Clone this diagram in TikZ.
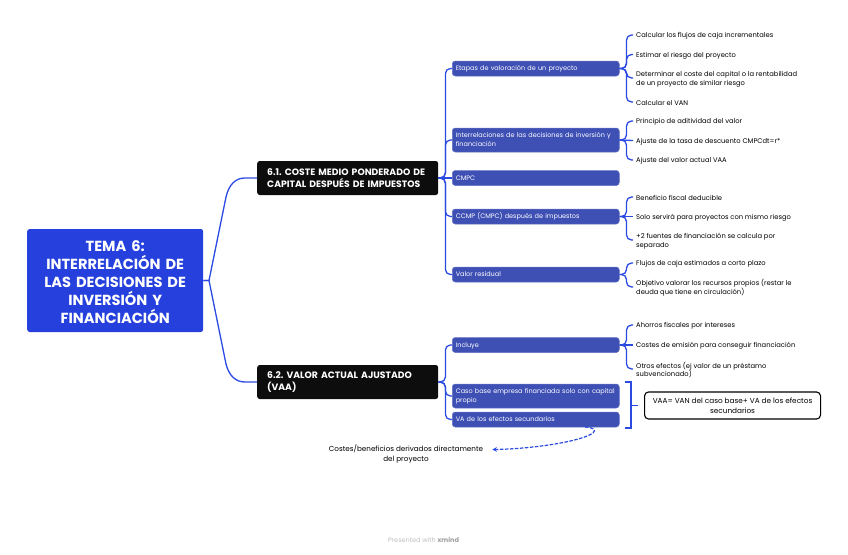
\documentclass[tikz,border=0pt]{standalone}
\usepackage{fontspec}
\setmainfont{Poppins}
\usetikzlibrary{arrows.meta,calc}
\definecolor{rootblue}{HTML}{2540DC}
\definecolor{subblue}{HTML}{3F50B5}
\definecolor{linkblue}{HTML}{2B4AE2}
\definecolor{nearblack}{HTML}{0D0D0D}
\tikzset{
 rootbox/.style={fill=rootblue,text=white,rounded corners=2.5pt,anchor=west,minimum width=176pt,minimum height=103pt,text width=176pt,text height=11pt,text depth=70pt,align=center,inner sep=0pt,font=\fontsize{14.6}{18}\selectfont\bfseries\frenchspacing},
 topicbox/.style={fill=nearblack,text=white,rounded corners=2.5pt,anchor=west,minimum width=181pt,minimum height=34pt,text width=161pt,inner xsep=10pt,inner ysep=0pt,align=left,font=\fontsize{9.25}{11.5}\selectfont\bfseries\frenchspacing},
 subbox/.style={fill=subblue,draw=subblue!80!white,line width=.5pt,text=white,rounded corners=3pt,anchor=west,minimum width=167pt,text width=160pt,inner xsep=3.5pt,inner ysep=0pt,align=left,font=\fontsize{6.5}{8.8}\selectfont\frenchspacing},
 oneline/.style={minimum height=15pt,text height=5pt,text depth=1pt},
 twoline/.style={minimum height=24pt,text height=5pt,text depth=9.9pt},
 leaf/.style={anchor=west,inner sep=0pt,align=left,yshift=-1pt,text=black,font=\fontsize{6.75}{8.8}\selectfont\frenchspacing},
 link/.style={draw=linkblue,line width=1.3pt,rounded corners=5pt},
 sumbox/.style={draw=black,line width=1.1pt,fill=white,rounded corners=4pt,anchor=west,minimum width=176pt,minimum height=27pt,align=center,inner sep=0pt,font=\fontsize{7.3}{9.5}\selectfont\frenchspacing},
 note/.style={inner sep=0pt,align=center,text=black,font=\fontsize{7.2}{10}\selectfont\frenchspacing},
}
\begin{document}
\begin{tikzpicture}[x=1pt,y=-1pt]
\useasboundingbox (0,0) rectangle (848,554);
\node[rootbox] (root) at (27,280.5) {TEMA 6:\\INTERRELACIÓN DE\\LAS DECISIONES DE\\INVERSIÓN Y\\FINANCIACIÓN};
\node[topicbox] (t1) at (257,178) {\mbox{6.1. COSTE MEDIO PONDERADO DE}\\\mbox{CAPITAL DESPUÉS DE IMPUESTOS}};
\node[topicbox] (t2) at (257,382) {6.2. VALOR ACTUAL AJUSTADO\\(VAA)};
\node[subbox,oneline] (s1) at (452,68.5) {Etapas de valoración de un proyecto};
\node[subbox,twoline] (s2) at (452,140) {\mbox{Interrelaciones de las decisiones de inversión y}\\financiación};
\node[subbox,oneline] (s3) at (452,178) {CMPC};
\node[subbox,oneline] (s4) at (452,216.5) {CCMP (CMPC) después de impuestos};
\node[subbox,oneline] (s5) at (452,274.5) {Valor residual};
\node[subbox,oneline] (s6) at (452,345) {Incluye};
\node[subbox,twoline] (s7) at (452,396) {\mbox{Caso base empresa financiada solo con capital}\\propio};
\node[subbox,oneline] (s8) at (452,419.5) {VA de los efectos secundarios};
\node[leaf] (l11) at (636,35) {Calcular los flujos de caja incrementales};
\node[leaf] (l12) at (636,54.5) {Estimar el riesgo del proyecto};
\node[leaf] (l13) at (636,78) {Determinar el coste del capital o la rentabilidad\\de un proyecto de similar riesgo};
\node[leaf] (l14) at (636,102) {Calcular el VAN};
\node[leaf] (l21) at (636,121) {Principio de aditividad del valor};
\node[leaf] (l22) at (636,140.5) {Ajuste de la tasa de descuento CMPCdt=r*};
\node[leaf] (l23) at (636,160) {Ajuste del valor actual VAA};
\node[leaf] (l41) at (636,197) {Beneficio fiscal deducible};
\node[leaf] (l42) at (636,216.5) {Solo servirá para proyectos con mismo riesgo};
\node[leaf] (l43) at (636,240) {+2 fuentes de financiación se calcula por\\separado};
\node[leaf] (l51) at (636,263) {Flujos de caja estimados a corto plazo};
\node[leaf] (l52) at (636,287) {Objetivo valorar los recursos propios (restar le\\deuda que tiene en circulación)};
\node[leaf] (l61) at (636,325) {Ahorros fiscales por intereses};
\node[leaf] (l62) at (636,345) {Costes de emisión para conseguir financiación};
\node[leaf] (l63) at (636,369) {Otros efectos (ej valor de un préstamo\\subvencionado)};
\node[sumbox] (sum) at (644,405.5) {VAA= VAN del caso base+ VA de los efectos\\secundarios};
\node[note] (nt) at (406,454.5) {Costes/beneficios derivados directamente\\del proyecto};
\node[inner sep=0pt,text=black!25,font=\fontsize{6.5}{8}\selectfont] (wm) at (423.5,540) {Presented with \textbf{\textcolor{black!38}{xmind}}};
% root links
\draw[link,rounded corners=0pt] (root.east) -- (209,280.5) -- (226,197) .. controls (229,184) and (236,178) .. (245,178) -- (t1.west);
\draw[link,rounded corners=0pt] (root.east) -- (209,280.5) -- (226,364) .. controls (229,376) and (236,382) .. (245,382) -- (t2.west);
% topic links
\coordinate (ta) at ($(t1.east)+(7,0)$);
\coordinate (tb) at ($(t2.east)+(7,0)$);
\foreach \s in {s1,s2,s4,s5} \draw[link] (t1.east) -- (ta) |- (\s.west);
\draw[link] (t1.east) -- (s3.west);
\foreach \s in {s6,s7,s8} \draw[link] (t2.east) -- (tb) |- (\s.west);
% leaf links
\foreach \s/\l in {s1/l11,s1/l12,s1/l13,s1/l14,s2/l21,s2/l23,s4/l41,s4/l43,s5/l51,s5/l52,s6/l61,s6/l63}
  \draw[link] (\s.east) -- ++(7,0) |- ([xshift=-3pt,yshift=1pt]\l.west);
\draw[link] (s2.east) -- ([xshift=-3pt,yshift=1pt]l22.west);
\draw[link] (s4.east) -- ([xshift=-3pt,yshift=1pt]l42.west);
\draw[link] (s6.east) -- ([xshift=-3pt,yshift=1pt]l62.west);
% summary bracket
\draw[draw=linkblue,line width=1.3pt] (625,382) -- (631,382) -- (631,428) -- (625,428);
\draw[draw=linkblue,line width=1.3pt] (631,405.5) -- (638,405.5);
% dashed relation
\draw[draw=linkblue,line width=1.2pt,dash pattern=on 3.5pt off 1.5pt,-{Stealth[length=4.5pt,width=4.5pt]}] (585,427) .. controls (592,427) and (597,430) .. (593,433) .. controls (580,442) and (530,449) .. ([xshift=9pt]nt.east |- 0,449.5);
\end{tikzpicture}
\end{document}
